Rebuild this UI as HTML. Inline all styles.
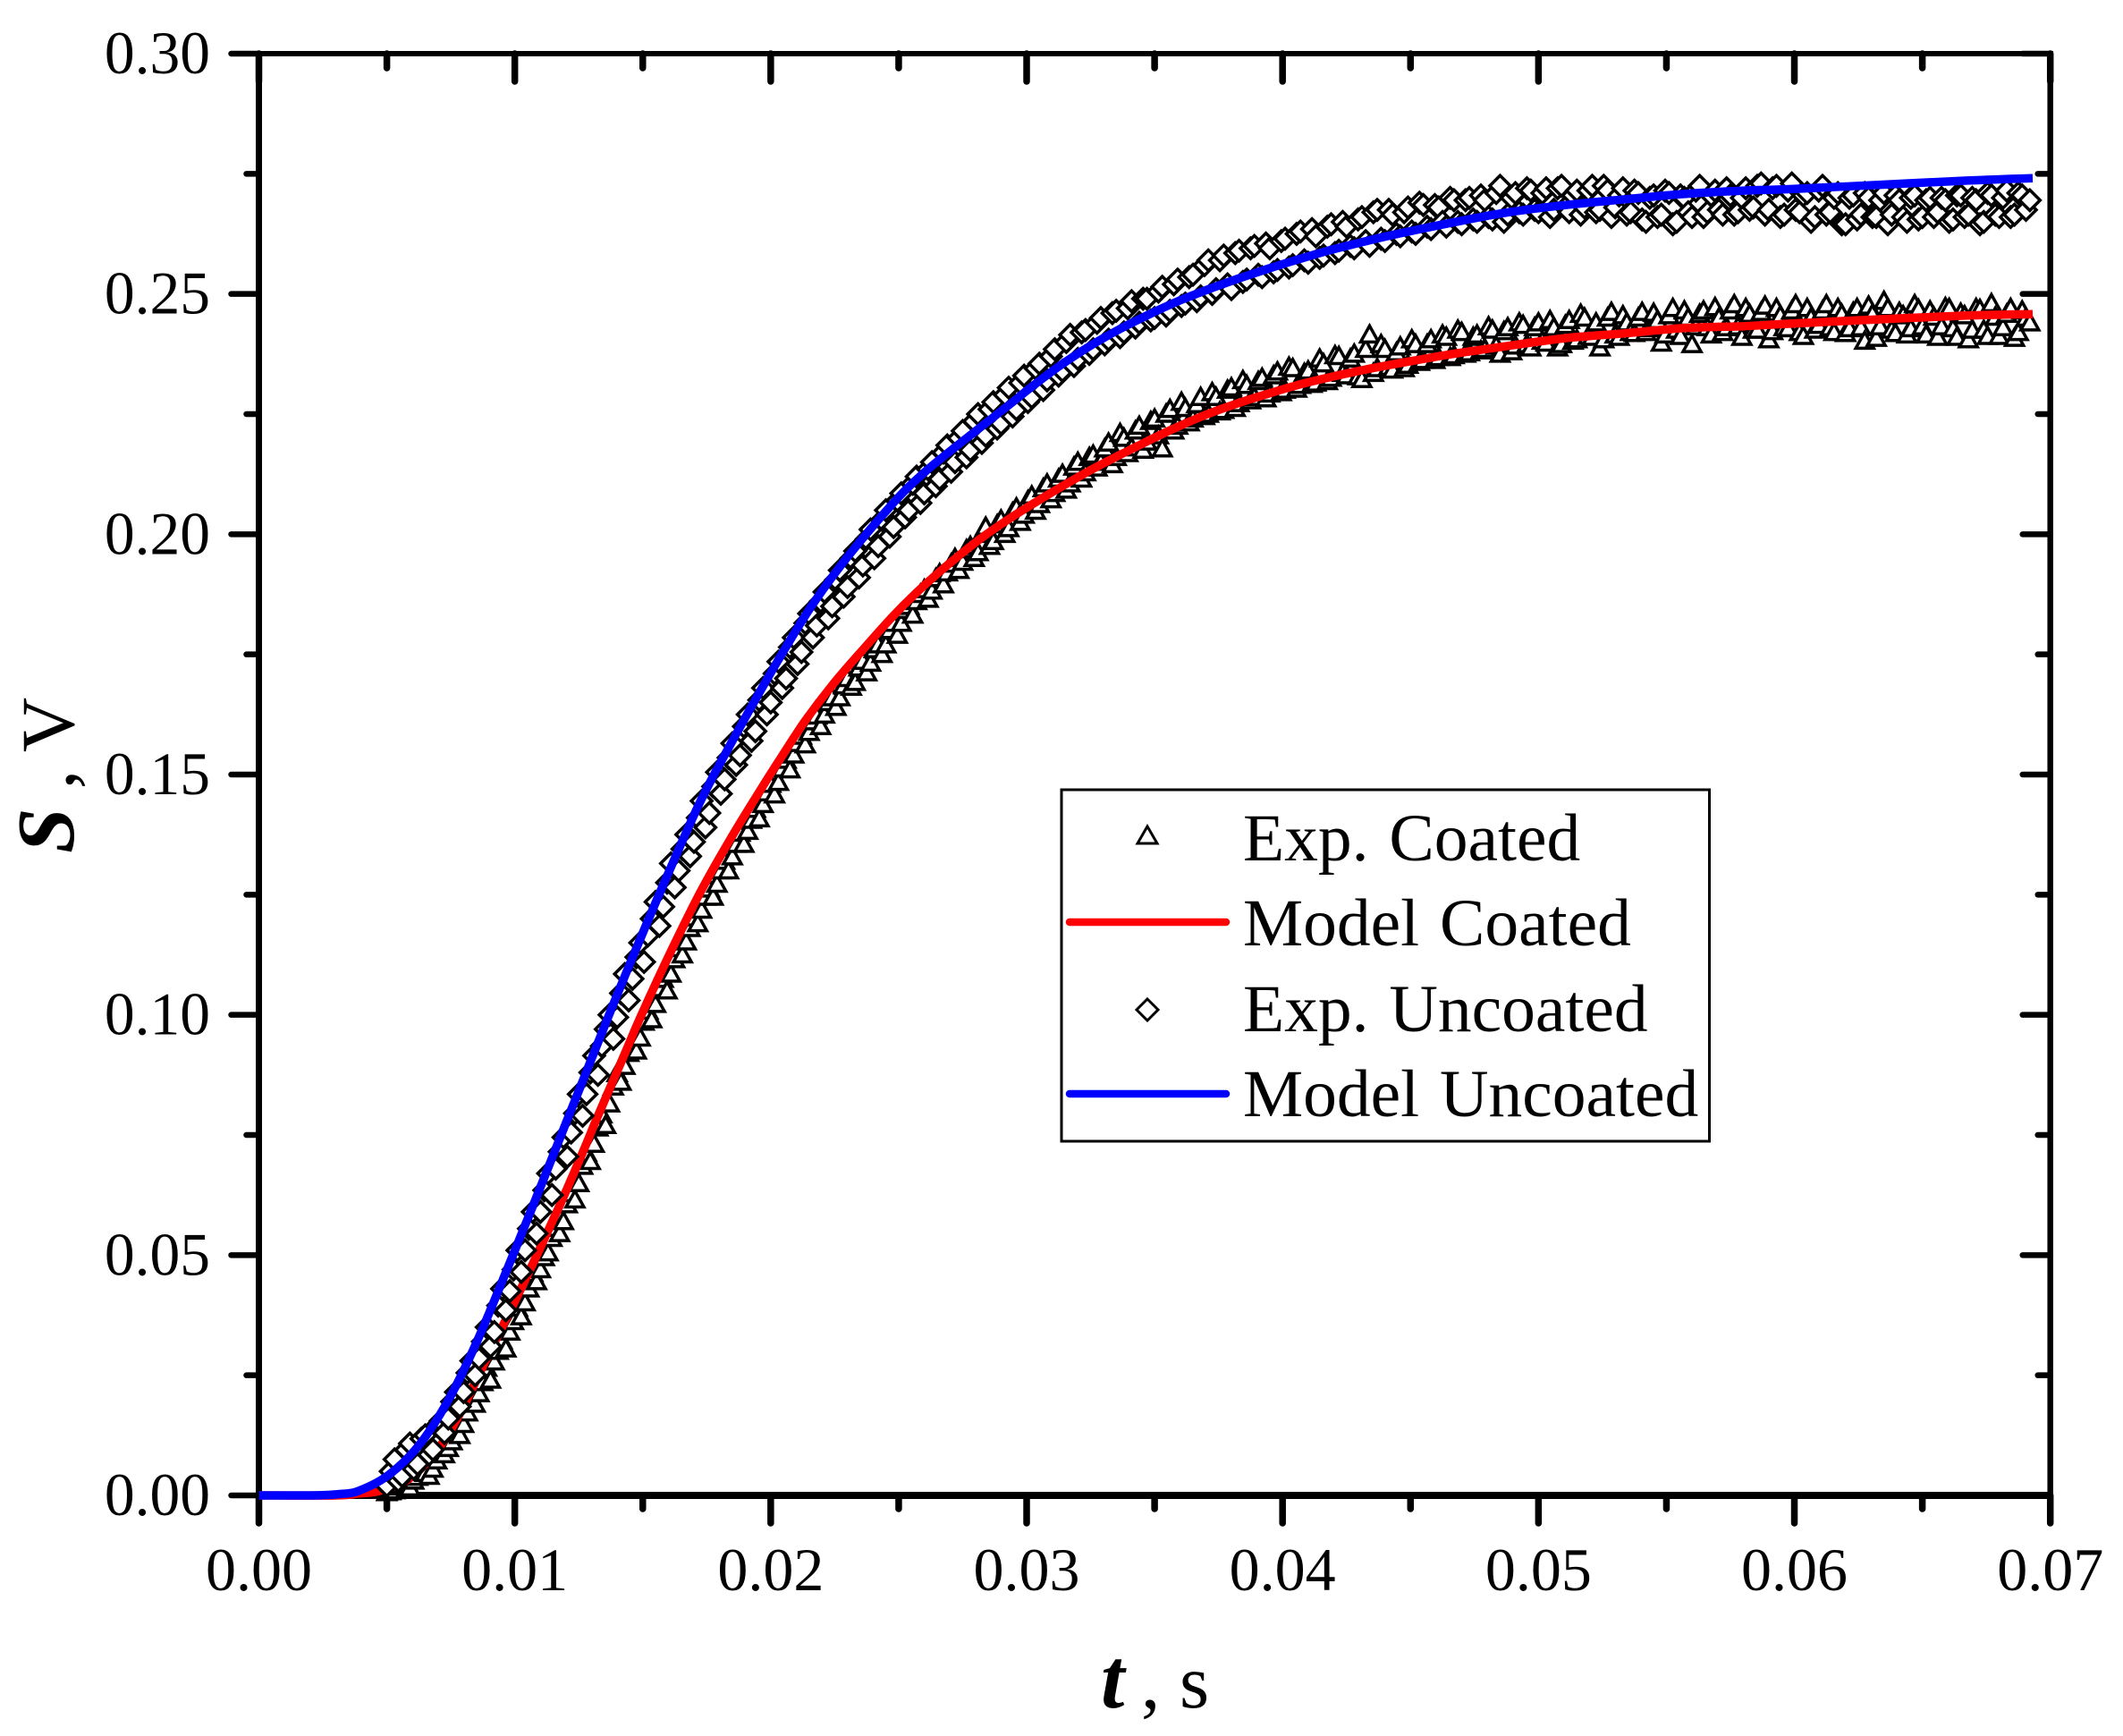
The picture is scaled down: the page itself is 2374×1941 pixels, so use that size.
<!DOCTYPE html>
<html lang="en">
<head>
<meta charset="utf-8">
<title>Signal versus time, coated and uncoated</title>
<style>
html,body{margin:0;padding:0;background:#fff;width:2374px;height:1941px;overflow:hidden}
svg{display:block;font-family:"Liberation Serif",serif}
</style>
</head>
<body>
<svg id="chart" xmlns="http://www.w3.org/2000/svg" width="2374" height="1941" viewBox="0 0 2374 1941">
  <rect width="2374" height="1941" fill="#fff"/>
  <g id="axes"></g>
  <g id="marks"></g>
  <text transform="translate(82,954) rotate(-90)" font-size="85"><tspan font-weight="bold" font-style="italic" font-size="91">S</tspan> , V</text>
  <text y="1909" font-size="85"><tspan x="1231" font-weight="bold" font-style="italic" font-size="95">t</tspan><tspan x="1276">,</tspan><tspan x="1319">s</tspan></text>
  <g id="legend">
    <rect x="1187" y="883" width="724.5" height="393" fill="#fff" stroke="#000" stroke-width="3"/>
    <g>
      <path d="M1283 924L1294 943H1272Z" fill="#fff" stroke="#000" stroke-width="3"/>
      <text x="1390" y="962" font-size="75.5" word-spacing="4">Exp. Coated</text>
    </g>
    <g>
      <line x1="1196" y1="1031" x2="1371" y2="1031" stroke="#f00" stroke-width="8.5" stroke-linecap="round"/>
      <text x="1390" y="1057" font-size="75.5" word-spacing="4">Model Coated</text>
    </g>
    <g>
      <path d="M1283 1117L1295 1129L1283 1141L1271 1129Z" fill="#fff" stroke="#000" stroke-width="3"/>
      <text x="1390" y="1153" font-size="75.5" word-spacing="4">Exp. Uncoated</text>
    </g>
    <g>
      <line x1="1196" y1="1223" x2="1371" y2="1223" stroke="#00f" stroke-width="8.5" stroke-linecap="round"/>
      <text x="1390" y="1248" font-size="75.5" word-spacing="4">Model Uncoated</text>
    </g>
  </g>
</svg>
<script>
const xMajorTicks = [0, 0.01, 0.02, 0.03, 0.04, 0.05, 0.06, 0.07];
const xMinorTicks = [0.005, 0.015, 0.025, 0.035, 0.045, 0.055, 0.065];
const xTickLabels = ["0.00", "0.01", "0.02", "0.03", "0.04", "0.05", "0.06", "0.07"];
const yMajorTicks = [0, 0.05, 0.10, 0.15, 0.20, 0.25, 0.30];
const yMinorTicks = [0.025, 0.075, 0.125, 0.175, 0.225, 0.275];
const yTickLabels = ["0.00", "0.05", "0.10", "0.15", "0.20", "0.25", "0.30"];

const expTimes = [
.0050,.0053,.0056,.0059,.0062,.0065,.0068,.0071,.0074,.0077,
.0080,.0083,.0086,.0089,.0092,.0095,.0098,.0101,.0104,.0107,
.0110,.0113,.0116,.0119,.0122,.0125,.0128,.0131,.0134,.0137,
.0140,.0143,.0146,.0149,.0152,.0155,.0158,.0161,.0164,.0167,
.0170,.0173,.0176,.0179,.0182,.0185,.0188,.0191,.0194,.0197,
.0200,.0203,.0206,.0209,.0212,.0215,.0218,.0221,.0224,.0227,
.0230,.0233,.0236,.0239,.0242,.0245,.0248,.0251,.0254,.0257,
.0260,.0263,.0266,.0269,.0272,.0275,.0278,.0281,.0284,.0287,
.0290,.0293,.0296,.0299,.0302,.0305,.0308,.0311,.0314,.0317,
.0320,.0323,.0326,.0329,.0332,.0335,.0338,.0341,.0344,.0347,
.0350,.0353,.0356,.0359,.0362,.0365,.0368,.0371,.0374,.0377,
.0380,.0383,.0386,.0389,.0392,.0395,.0398,.0401,.0404,.0407,
.0410,.0413,.0416,.0419,.0422,.0425,.0428,.0431,.0434,.0437,
.0440,.0443,.0446,.0449,.0452,.0455,.0458,.0461,.0464,.0467,
.0470,.0473,.0476,.0479,.0482,.0485,.0488,.0491,.0494,.0497,
.0500,.0503,.0506,.0509,.0512,.0515,.0518,.0521,.0524,.0527,
.0530,.0533,.0536,.0539,.0542,.0545,.0548,.0551,.0554,.0557,
.0560,.0563,.0566,.0569,.0572,.0575,.0578,.0581,.0584,.0587,
.0590,.0593,.0596,.0599,.0602,.0605,.0608,.0611,.0614,.0617,
.0620,.0623,.0626,.0629,.0632,.0635,.0638,.0641,.0644,.0647,
.0650,.0653,.0656,.0659,.0662,.0665,.0668,.0671,.0674,.0677,
.0680,.0683,.0686,.0689,.0692];

const expCoated = [
.0006,.0010,.0021,.0016,.0038,.0046,.0055,.0090,.0098,.0128,
.0148,.0195,.0212,.0265,.0278,.0322,.0340,.0390,.0401,.0462,
.0470,.0505,.0556,.0570,.0628,.0649,.0712,.0731,.0792,.0815,
.0878,.0893,.0940,.0952,.1008,.1022,.1074,.1085,.1138,.1152,
.1202,.1218,.1262,.1272,.1320,.1329,.1378,.1382,.1428,.1438,
.1480,.1484,.1530,.1541,.1580,.1588,.1622,.1624,.1660,.1660,
.1700,.1692,.1736,.1732,.1770,.1770,.1815,.1815,.1850,.1860,
.1885,.1882,.1918,.1920,.1950,.1942,.1975,.1962,.2015,.1985,
.2030,.2012,.2055,.2040,.2080,.2062,.2105,.2085,.2125,.2105,
.2150,.2128,.2165,.2150,.2190,.2160,.2200,.2180,.2225,.2192,
.2240,.2178,.2260,.2225,.2262,.2240,.2285,.2250,.2285,.2258,
.2305,.2272,.2310,.2285,.2325,.2292,.2338,.2300,.2345,.2310,
.2340,.2315,.2355,.2325,.2370,.2330,.2375,.2322,.2415,.2345,
.2385,.2342,.2390,.2352,.2395,.2362,.2405,.2368,.2410,.2372,
.2420,.2378,.2415,.2385,.2425,.2375,.2430,.2392,.2435,.2388,
.2440,.2398,.2430,.2395,.2445,.2405,.2450,.2410,.2388,.2450,
.2415,.2455,.2420,.2450,.2420,.2460,.2398,.2455,.2425,.2465,
.2395,.2458,.2430,.2472,.2420,.2465,.2432,.2470,.2425,.2462,
.2405,.2470,.2430,.2465,.2420,.2470,.2425,.2465,.2430,.2470,
.2418,.2462,.2430,.2475,.2408,.2485,.2425,.2462,.2415,.2478,
.2432,.2465,.2410,.2472,.2428,.2460,.2405,.2470,.2425,.2480,
.2412,.2458,.2408,.2465,.2440];

const expUncoated = [
.0020,.0075,.0040,.0108,.0065,.0125,.0095,.0155,.0160,.0215,
.0215,.0280,.0285,.0350,.0340,.0430,.0425,.0510,.0510,.0590,
.0590,.0670,.0680,.0745,.0755,.0835,.0835,.0915,.0935,.1000,
.0995,.1085,.1075,.1150,.1165,.1235,.1225,.1315,.1300,.1375,
.1360,.1445,.1420,.1505,.1490,.1565,.1540,.1625,.1590,.1680,
.1650,.1735,.1700,.1785,.1755,.1835,.1810,.1880,.1850,.1925,
.1890,.1965,.1935,.2010,.1975,.2050,.2015,.2085,.2050,.2120,
.2085,.2150,.2115,.2185,.2150,.2215,.2175,.2250,.2205,.2275,
.2230,.2305,.2260,.2330,.2285,.2355,.2320,.2385,.2340,.2415,
.2365,.2425,.2385,.2450,.2405,.2465,.2420,.2485,.2440,.2490,
.2450,.2515,.2465,.2530,.2480,.2540,.2495,.2570,.2510,.2580,
.2510,.2590,.2530,.2600,.2535,.2595,.2550,.2615,.2560,.2630,
.2565,.2620,.2580,.2645,.2590,.2640,.2595,.2660,.2600,.2675,
.2610,.2665,.2620,.2680,.2625,.2685,.2635,.2680,.2640,.2695,
.2645,.2700,.2650,.2695,.2655,.2725,.2665,.2710,.2665,.2715,
.2670,.2720,.2675,.2725,.2670,.2715,.2680,.2725,.2675,.2715,
.2680,.2720,.2670,.2710,.2650,.2705,.2665,.2710,.2650,.2700,
.2660,.2725,.2670,.2715,.2665,.2705,.2670,.2720,.2680,.2730,
.2675,.2725,.2665,.2730,.2670,.2710,.2660,.2725,.2670,.2710,
.2645,.2705,.2665,.2700,.2660,.2710,.2665,.2695,.2650,.2705,
.2660,.2700,.2670,.2695,.2655,.2705,.2665,.2695,.2650,.2705,
.2660,.2715,.2665,.2705,.2695];

const expTimesB = [
.00515,.00545,.00575,.00605,.00635,.00665,.00695,.00725,.00755,.00785,
.00815,.00845,.00875,.00905,.00935,.00965,.00995,.01025,.01055,.01085,
.01115,.01145,.01175,.01205,.01235,.01265,.01295,.01325,.01355,.01385,
.01415,.01445,.01475,.01505,.01535,.01565,.01595,.01625,.01655,.01685,
.01715,.01745,.01775,.01805,.01835,.01865,.01895,.01925,.01955,.01985,
.02015,.02045,.02075,.02105,.02135,.02165,.02195,.02225,.02255,.02285,
.02315,.02345,.02375,.02405,.02435,.02465,.02495,.02525,.02555,.02585,
.02615,.02645,.02675,.02705,.02735,.02765,.02795,.02825,.02855,.02885,
.02915,.02945,.02975,.03005,.03035,.03065,.03095,.03125,.03155,.03185,
.03215,.03245,.03275,.03305,.03335,.03365,.03395,.03425,.03455,.03485,
.03515,.03545,.03575,.03605,.03635,.03665,.03695,.03725,.03755,.03785,
.03815,.03845,.03875,.03905,.03935,.03965,.03995,.04025,.04055,.04085,
.04115,.04145,.04175,.04205,.04235,.04265,.04295,.04325,.04355,.04385,
.04415,.04445,.04475,.04505,.04535,.04565,.04595,.04625,.04655,.04685,
.04715,.04745,.04775,.04805,.04835,.04865,.04895,.04925,.04955,.04985,
.05015,.05045,.05075,.05105,.05135,.05165,.05195,.05225,.05255,.05285,
.05315,.05345,.05375,.05405,.05435,.05465,.05495,.05525,.05555,.05585,
.05615,.05645,.05675,.05705,.05735,.05765,.05795,.05825,.05855,.05885,
.05915,.05945,.05975,.06005,.06035,.06065,.06095,.06125,.06155,.06185,
.06215,.06245,.06275,.06305,.06335,.06365,.06395,.06425,.06455,.06485,
.06515,.06545,.06575,.06605,.06635,.06665,.06695,.06725,.06755,.06785,
.06815,.06845,.06875,.06905];

const expCoatedB = [
.0008,.0018,.0012,.0030,.0048,.0040,.0072,.0085,.0112,.0125,
.0172,.0190,.0235,.0240,.0300,.0305,.0362,.0372,.0430,.0445,
.0495,.0535,.0545,.0605,.0615,.0685,.0695,.0765,.0770,.0850,
.0860,.0920,.0925,.0985,.0990,.1055,.1050,.1115,.1125,.1180,
.1190,.1245,.1245,.1300,.1300,.1355,.1355,.1405,.1408,.1462,
.1458,.1512,.1510,.1565,.1562,.1610,.1600,.1650,.1640,.1685,
.1682,.1722,.1712,.1760,.1750,.1800,.1790,.1842,.1832,.1875,
.1865,.1908,.1895,.1938,.1925,.1968,.1950,.2000,.1975,.2020,
.2000,.2045,.2025,.2070,.2048,.2095,.2072,.2115,.2092,.2140,
.2115,.2160,.2138,.2178,.2145,.2210,.2168,.2215,.2175,.2235,
.2205,.2250,.2215,.2275,.2232,.2270,.2245,.2295,.2255,.2300,
.2262,.2320,.2278,.2318,.2282,.2330,.2295,.2348,.2302,.2335,
.2312,.2365,.2318,.2372,.2335,.2365,.2328,.2385,.2335,.2395,
.2348,.2378,.2345,.2405,.2358,.2395,.2362,.2415,.2368,.2425,
.2375,.2410,.2382,.2432,.2392,.2422,.2380,.2440,.2395,.2430,
.2402,.2445,.2388,.2435,.2402,.2458,.2412,.2440,.2405,.2462,
.2410,.2440,.2418,.2462,.2428,.2445,.2415,.2470,.2412,.2450,
.2432,.2465,.2415,.2450,.2430,.2478,.2410,.2458,.2425,.2475,
.2422,.2455,.2428,.2478,.2412,.2450,.2435,.2478,.2420,.2458,
.2428,.2470,.2402,.2458,.2432,.2470,.2418,.2455,.2428,.2468,
.2415,.2452,.2432,.2470,.2410,.2455,.2425,.2468,.2412,.2452,
.2430,.2470,.2420,.2450];

const expUncoatedB = [
.0050,.0030,.0095,.0055,.0118,.0085,.0145,.0130,.0195,.0185,
.0255,.0250,.0320,.0310,.0395,.0385,.0470,.0465,.0555,.0545,
.0635,.0625,.0715,.0705,.0795,.0790,.0880,.0875,.0970,.0950,
.1045,.1030,.1120,.1110,.1200,.1185,.1275,.1265,.1345,.1330,
.1410,.1390,.1475,.1460,.1535,.1520,.1600,.1570,.1655,.1625,
.1710,.1680,.1765,.1730,.1815,.1785,.1860,.1825,.1905,.1870,
.1950,.1910,.1990,.1950,.2030,.1995,.2070,.2035,.2105,.2065,
.2135,.2100,.2170,.2130,.2200,.2160,.2235,.2190,.2260,.2220,
.2290,.2245,.2315,.2275,.2345,.2300,.2370,.2330,.2400,.2350,
.2420,.2375,.2440,.2395,.2460,.2410,.2470,.2430,.2490,.2445,
.2505,.2455,.2520,.2475,.2535,.2485,.2560,.2500,.2570,.2520,
.2585,.2525,.2595,.2540,.2605,.2545,.2610,.2555,.2625,.2570,
.2635,.2575,.2640,.2585,.2650,.2600,.2655,.2610,.2670,.2615,
.2675,.2625,.2670,.2630,.2690,.2640,.2685,.2650,.2700,.2650,
.2695,.2655,.2705,.2660,.2710,.2650,.2700,.2670,.2720,.2675,
.2710,.2660,.2720,.2680,.2705,.2665,.2715,.2670,.2725,.2660,
.2705,.2665,.2715,.2655,.2700,.2660,.2715,.2645,.2705,.2670,
.2715,.2660,.2705,.2675,.2720,.2665,.2700,.2675,.2725,.2665,
.2720,.2660,.2715,.2675,.2705,.2650,.2715,.2665,.2700,.2645,
.2700,.2655,.2710,.2660,.2695,.2645,.2705,.2660,.2700,.2655,
.2695,.2660,.2700,.2650,.2705,.2660,.2700,.2645,.2710,.2665,
.2700,.2660,.2710,.2675];

const modelCoatedTimes = [0,.0030,.00388,.00468,.0058,.00692,.00783,.00901,.00992,.01087,.01181,.01272,.01321,.01429,.01495,.01611,.01726,.01845,.01960,.02040,.02135,.02250,.02369,.02484,.02599,.02718,.02833,.02949,.03067,.03242,.03357,.03473,.03592,.03707,.03822,.03941,.04056,.04171,.04290,.04406,.04640,.04870,.05104,.05338,.05569,.05803,.05978,.06327,.06676,.06931];
const modelCoatedValues = [0,0,.0004,.0009,.0032,.0091,.0168,.0297,.0395,.0501,.0610,.0722,.0785,.0918,.1000,.1133,.1256,.1368,.1468,.1535,.1612,.1692,.1765,.1833,.1893,.1948,.1996,.2038,.2077,.2131,.2163,.2194,.2224,.2250,.2272,.2292,.2310,.2325,.2339,.2351,.2373,.2391,.2408,.2418,.2429,.2433,.2438,.2447,.2455,.2458];

const modelUncoatedTimes = [0,.0020,.0027,.0032,.00388,.00503,.00622,.00737,.00852,.00971,.01087,.01202,.01268,.01307,.01401,.01506,.01600,.01726,.01845,.02019,.02159,.02299,.02484,.02599,.02718,.02833,.02938,.03008,.03123,.03242,.03357,.03473,.03592,.03707,.03822,.03941,.04056,.04171,.04290,.04406,.04640,.04870,.05104,.05338,.05569,.05803,.05978,.06327,.06676,.06931];
const modelUncoatedValues = [0,0,.0001,.0003,.0009,.0041,.0102,.0195,.0320,.0472,.0624,.0778,.0866,.0918,.1043,.1178,.1295,.1445,.1565,.1729,.1850,.1952,.2068,.2128,.2180,.2228,.2272,.2302,.2348,.2390,.2425,.2456,.2485,.2509,.2531,.2552,.2571,.2589,.2605,.2620,.2646,.2669,.2685,.2697,.2708,.2715,.2718,.2727,.2736,.2741];

const SVG_NS = "http://www.w3.org/2000/svg";
const X0 = 289.5, X1 = 2292.7, Y0 = 1672, Y1 = 60;
function xScale(t) { return X0 + (X1 - X0) * t / 0.07; }
function yScale(v) { return Y0 - (Y0 - Y1) * v / 0.30; }

function make(parent, tag, attrs) {
  const el = document.createElementNS(SVG_NS, tag);
  for (const k in attrs) el.setAttribute(k, attrs[k]);
  parent.appendChild(el);
  return el;
}

const axes = document.getElementById("axes");
const marks = document.getElementById("marks");

const leftSpine = make(axes, "line", {x1: X0, y1: 57, x2: X0, y2: 1676, stroke: "#000", "stroke-width": 7});


const rightSpine = make(axes, "line", {x1: X1, y1: 57, x2: X1, y2: 1676, stroke: "#000", "stroke-width": 6.5});


const topSpine = make(axes, "line", {x1: 286, y1: Y1, x2: 2296, y2: Y1, stroke: "#000", "stroke-width": 6});


const bottomSpine = make(axes, "line", {x1: 286, y1: Y0, x2: 2296, y2: Y0, stroke: "#000", "stroke-width": 8});



function xTickMarks(value, lenBottom, lenTop) {
  const x = xScale(value);
  const b = make(axes, "line", {x1: x, y1: Y0, x2: x, y2: Y0 + lenBottom, stroke: "#000", "stroke-width": 7.5, "stroke-linecap": "round"});
  
  
  const t = make(axes, "line", {x1: x, y1: Y1, x2: x, y2: Y1 + lenTop, stroke: "#000", "stroke-width": 7.5, "stroke-linecap": "round"});
  
  
}
function yTickMarks(value, len) {
  const y = yScale(value);
  const l = make(axes, "line", {x1: X0, y1: y, x2: X0 - len, y2: y, stroke: "#000", "stroke-width": 6.5, "stroke-linecap": "round"});
  
  
  const r = make(axes, "line", {x1: X1, y1: y, x2: X1 - len, y2: y, stroke: "#000", "stroke-width": 6.5, "stroke-linecap": "round"});
  
  
}

xMajorTicks.forEach(function (v, i) {
  xTickMarks(v, 31, 31);
  const label = make(axes, "text", {x: xScale(v), y: 1778, "font-size": 68, "text-anchor": "middle"});
  
  
  label.textContent = xTickLabels[i];
});
xMinorTicks.forEach(function (v) { xTickMarks(v, 15, 16); });
yMajorTicks.forEach(function (v, i) {
  yTickMarks(v, 31);
  const label = make(axes, "text", {x: 235, y: yScale(v) + 22, "font-size": 67.5, "text-anchor": "end"});
  
  
  label.textContent = yTickLabels[i];
});
yMinorTicks.forEach(function (v) { yTickMarks(v, 14); });

function drawTriangle(t, v) {
  const cx = xScale(t), cy = yScale(v);
  const tri = make(marks, "path", {
    d: "M" + cx + " " + (cy - 10) + "l10 18h-20z",
    fill: "#fff", stroke: "#000", "stroke-width": 3.5
  });
  
  
}
function drawDiamond(t, v) {
  const cx = xScale(t), cy = yScale(v);
  const dia = make(marks, "path", {
    d: "M" + cx + " " + (cy - 11.5) + "l11.5 11.5l-11.5 11.5l-11.5 -11.5z",
    fill: "#fff", stroke: "#000", "stroke-width": 3.5
  });
  
  
}

expTimes.forEach(function (t, i) {
  drawTriangle(t, expCoated[i]);
  if (i < expTimesB.length) drawTriangle(expTimesB[i], expCoatedB[i]);
});

function modelPath(times, values) {
  const px = times.map(xScale);
  const py = values.map(yScale);
  let d = "M" + px[0].toFixed(1) + " " + py[0].toFixed(1);
  for (let i = 0; i < px.length - 1; i++) {
    const a = Math.max(i - 1, 0), b = Math.min(i + 2, px.length - 1);
    const c1x = px[i] + (px[i + 1] - px[a]) / 6, c1y = py[i] + (py[i + 1] - py[a]) / 6;
    const c2x = px[i + 1] - (px[b] - px[i]) / 6, c2y = py[i + 1] - (py[b] - py[i]) / 6;
    d += "C" + c1x.toFixed(1) + " " + c1y.toFixed(1) + " " + c2x.toFixed(1) + " " + c2y.toFixed(1) + " " + px[i + 1].toFixed(1) + " " + py[i + 1].toFixed(1);
  }
  return d;
}

const redCurve = make(marks, "path", {d: modelPath(modelCoatedTimes, modelCoatedValues), fill: "none", stroke: "#f00", "stroke-width": 9.5, "stroke-linejoin": "round"});



expTimes.forEach(function (t, i) {
  drawDiamond(t, expUncoated[i]);
  if (i < expTimesB.length) drawDiamond(expTimesB[i], expUncoatedB[i]);
});

const blueCurve = make(marks, "path", {d: modelPath(modelUncoatedTimes, modelUncoatedValues), fill: "none", stroke: "#00f", "stroke-width": 9.5, "stroke-linejoin": "round"});


</script>
</body>
</html>
